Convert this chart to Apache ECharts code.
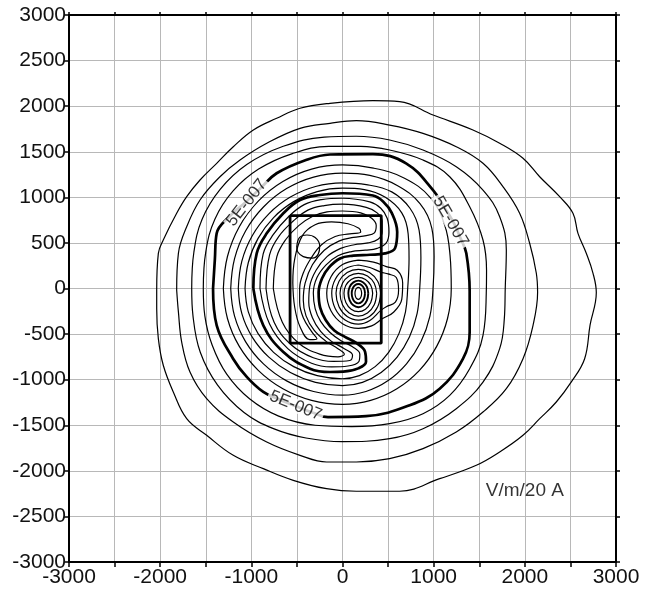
<!DOCTYPE html>
<html><head><meta charset="utf-8">
<script src="https://cdn.jsdelivr.net/npm/echarts@6/dist/echarts.min.js"></script>
<style>html,body{margin:0;padding:0;background:#fff}#c{width:653px;height:592px}</style>
</head><body><div id="c"></div>
<script>
// axis setup
const axisMin = -3000, axisMax = 3000, gridStep = 500, xLabelStep = 1000;

// contour lines, outer to inner (x, y in metres)
const contour1 = [[-2038,-16],[-2020,386],[-1966,532],[-1819,825],[-1709,1007],[-1563,1190],[-1380,1373],[-1198,1555],[-978,1739],[-722,1867],[-466,1977],[-137,2031],[334,2060],[627,2049],[993,1903],[1431,1739],[1724,1593],[1980,1428],[2163,1226],[2382,1007],[2528,825],[2583,605],[2674,386],[2748,167],[2784,-45],[2715,-404],[2656,-770],[2510,-1025],[2345,-1245],[2163,-1428],[1980,-1610],[1724,-1793],[1468,-1939],[1066,-2086],[627,-2224],[152,-2224],[-175,-2196],[-540,-2104],[-869,-1976],[-1198,-1830],[-1490,-1610],[-1709,-1428],[-1856,-1135],[-1966,-842],[-2020,-550],[-2038,-221],[-2038,-16]];
const contour2 = [[-1819,-16],[-1800,386],[-1709,678],[-1563,971],[-1344,1226],[-1124,1409],[-831,1593],[-466,1757],[-137,1812],[152,1841],[517,1793],[883,1702],[1248,1555],[1541,1373],[1760,1117],[1943,825],[2053,496],[2126,167],[2140,-45],[2090,-404],[1980,-770],[1797,-1099],[1541,-1355],[1248,-1574],[883,-1757],[517,-1867],[152,-1903],[-175,-1903],[-466,-1830],[-831,-1684],[-1198,-1464],[-1490,-1208],[-1673,-916],[-1764,-587],[-1800,-257],[-1819,-16]];
const contour3 = [[-1654,0],[-1630,400],[-1540,760],[-1340,1090],[-1050,1360],[-650,1560],[-200,1660],[150,1670],[517,1629],[883,1519],[1248,1336],[1541,1080],[1724,788],[1797,422],[1785,0],[1775,-330],[1724,-660],[1541,-1026],[1248,-1318],[883,-1538],[517,-1647],[0,-1680],[-400,-1640],[-750,-1540],[-1080,-1360],[-1370,-1060],[-1560,-700],[-1640,-300],[-1654,0]];
const contour4 = [[-1527,0],[-1500,400],[-1400,760],[-1200,1070],[-920,1310],[-550,1480],[-150,1560],[200,1560],[517,1519],[883,1409],[1176,1226],[1395,897],[1541,532],[1580,200],[1577,-49],[1541,-513],[1395,-880],[1176,-1172],[883,-1373],[517,-1483],[100,-1515],[-300,-1500],[-700,-1400],[-1020,-1210],[-1270,-940],[-1430,-620],[-1510,-300],[-1527,0]];
const contour5 = [[-1420,0],[-1400,320],[-1380,605],[-1240,790],[-1060,950],[-900,1100],[-722,1264],[-400,1410],[-137,1470],[334,1475],[697,1373],[993,1080],[1110,900],[1215,730],[1300,540],[1358,386],[1395,-30],[1395,-477],[1322,-770],[1066,-1099],[737,-1281],[258,-1400],[-159,-1410],[-330,-1360],[-514,-1290],[-700,-1215],[-869,-1135],[-1050,-970],[-1200,-770],[-1380,-404],[-1420,0]];
const contour6 = [[-1307,0],[-1262,351],[-1132,678],[-924,958],[-654,1173],[-339,1309],[0,1355],[340,1320],[680,1210],[960,1000],[1120,700],[1180,360],[1193,0],[1152,-329],[1033,-635],[844,-898],[597,-1100],[309,-1227],[0,-1270],[-339,-1227],[-654,-1100],[-924,-898],[-1132,-635],[-1262,-329],[-1307,0]];
const contour7 = [[-1226,0],[-1184,327],[-1062,633],[-867,894],[-613,1096],[-317,1222],[0,1265],[300,1240],[600,1130],[850,930],[980,660],[1005,350],[993,0],[959,-303],[860,-585],[702,-827],[497,-1013],[257,-1130],[0,-1170],[-317,-1130],[-613,-1013],[-867,-827],[-1062,-585],[-1184,-303],[-1226,0]];
const contour8 = [[-1143,0],[-1104,300],[-990,579],[-808,819],[-572,1003],[-296,1119],[0,1158],[260,1140],[540,1060],[740,880],[840,640],[860,340],[847,0],[818,-276],[734,-533],[599,-753],[424,-922],[219,-1029],[0,-1065],[-296,-1029],[-572,-922],[-808,-753],[-990,-533],[-1104,-276],[-1143,0]];
const contour9 = [[-1069,0],[-1033,285],[-926,550],[-756,778],[-535,953],[-277,1063],[0,1100],[240,1085],[470,1000],[650,830],[720,600],[730,330],[715,0],[691,-256],[619,-495],[506,-700],[358,-857],[185,-956],[0,-990],[-277,-956],[-535,-857],[-756,-700],[-926,-495],[-1033,-256],[-1069,0]];
const contour10 = [[-978,0],[-941,386],[-831,605],[-649,825],[-466,971],[-247,1026],[0,1045],[334,1020],[450,950],[540,830],[600,620],[576,441],[466,385],[302,370],[119,360],[-27,330],[-150,230],[-225,110],[-262,-40],[-245,-210],[-185,-345],[-90,-460],[27,-530],[155,-600],[247,-693],[258,-803],[173,-876],[9,-912],[-137,-916],[-356,-880],[-649,-697],[-869,-404],[-978,0]];
const contour11 = [[-905,0],[-870,380],[-760,590],[-590,790],[-420,920],[-230,975],[0,990],[300,950],[420,880],[490,770],[510,620],[480,500],[380,440],[250,420],[100,405],[-50,360],[-180,260],[-280,120],[-320,-50],[-300,-220],[-240,-360],[-140,-480],[-20,-570],[110,-640],[190,-720],[180,-800],[60,-850],[-120,-860],[-340,-820],[-600,-660],[-800,-390],[-905,0]];
const contour12 = [[-839,0],[-800,370],[-700,570],[-540,740],[-380,860],[-200,910],[0,925],[260,890],[380,830],[435,740],[435,620],[390,540],[280,500],[130,480],[-20,440],[-170,350],[-290,200],[-360,20],[-370,-150],[-330,-320],[-240,-470],[-120,-580],[20,-660],[110,-730],[80,-790],[-100,-800],[-320,-760],[-560,-620],[-750,-370],[-839,0]];
const contour13 = [[-759,0],[-720,350],[-620,540],[-480,690],[-330,790],[-170,840],[0,850],[200,830],[320,770],[370,690],[350,610],[260,580],[120,560],[-40,520],[-200,420],[-330,260],[-410,60],[-430,-130],[-400,-300],[-310,-460],[-180,-580],[-50,-660],[20,-720],[-50,-750],[-250,-720],[-480,-600],[-660,-370],[-759,0]];
const contour14 = [[-545,60],[-525,320],[-440,580],[-300,700],[-120,730],[60,710],[180,660],[200,620],[80,600],[-80,570],[-230,480],[-340,340],[-430,170],[-470,0],[-470,-150],[-430,-320],[-340,-470],[-280,-550],[-360,-560],[-466,-420],[-525,-200],[-545,60]];
const smallLoop = [[-502,460],[-470,560],[-390,587],[-300,560],[-250,470],[-265,380],[-330,334],[-430,350],[-490,400],[-502,460]];

// rings around the central peak
const ring1 = [[210,-53],[205,-20],[192,4],[174,13],[155,4],[142,-20],[137,-53],[142,-86],[155,-110],[174,-119],[192,-110],[205,-86],[210,-53]];
const ring2 = [[247,-53],[237,-2],[210,35],[174,49],[137,35],[111,-2],[101,-53],[111,-108],[137,-148],[174,-163],[210,-148],[237,-108],[247,-53]];
const ring3 = [[283,-53],[268,17],[228,67],[174,86],[119,67],[79,17],[64,-53],[79,-130],[119,-185],[174,-206],[228,-185],[268,-130],[283,-53]];
const ring4 = [[331,-53],[310,35],[252,99],[174,123],[95,99],[37,35],[16,-53],[37,-154],[95,-227],[174,-254],[252,-227],[310,-154],[331,-53]];
const ring5 = [[375,-53],[348,57],[274,137],[174,166],[73,137],[0,57],[-27,-53],[0,-178],[73,-269],[174,-302],[274,-269],[348,-178],[375,-53]];
const ring6 = [[419,-53],[386,79],[296,175],[174,210],[51,175],[-38,79],[-71,-53],[-38,-200],[51,-307],[174,-346],[296,-307],[386,-200],[419,-53]];
const ring7 = [[174,258],[300,230],[420,180],[500,160],[590,120],[615,-20],[580,-150],[480,-200],[420,-240],[300,-350],[174,-390],[28,-345],[-79,-221],[-118,-53],[-79,102],[28,216],[174,258]];
const ring8 = [[174,312],[340,290],[480,240],[600,200],[660,60],[650,-120],[560,-260],[440,-330],[320,-410],[174,-437],[0,-386],[-127,-245],[-173,-53],[-126,129],[0,263],[174,312]];

const boldLines = [contour5, contour10];
const thinLines = [contour1, contour2, contour3, contour4, contour6, contour7, contour8, contour9, contour11, contour12, contour13, contour14, smallLoop, ring1, ring4, ring5, ring6, ring7, ring8];
const mediumLines = [ring2, ring3];

// survey rectangle
const rectangle = [[-575,800],[425,800],[425,-600],[-575,-600],[-575,800]];

// contour labels: x, y, rotation
const labelText = '5E-007';
const labelPoints = [[-1050,940,52],[1185,735,-60],[-514,-1285,-22]];
const unitText = 'V/m/20 A';
const unitPoint = [2000,-2220];

const FONT = 'Liberation Sans, Arial, sans-serif';
const chart = echarts.init(document.getElementById('c'), null, {renderer:'canvas'});

function lineSeries(data, width, z) {
  return {type:'line', data:data, smooth:0.4, symbol:'none', silent:true, z:z,
    lineStyle:{color:'#000', width:width}, animation:false};
}
const series = [];
thinLines.forEach(d => series.push(lineSeries(d, 1.2, 3)));
mediumLines.forEach(d => series.push(lineSeries(d, 1.9, 3)));
boldLines.forEach(d => series.push(lineSeries(d, 2.7, 4)));
series.push({type:'line', data:rectangle, smooth:false, symbol:'none', silent:true, z:5,
  lineStyle:{color:'#000', width:2.8}, animation:false});
series.push({type:'scatter', z:8, silent:true, symbolSize:1, itemStyle:{color:'rgba(0,0,0,0)'},
  data: labelPoints.map(p => ({value:[p[0],p[1]], label:{rotate:p[2]}})),
  label:{show:true, position:'inside', formatter:labelText, fontSize:17, color:'#000', fontFamily:FONT,
    backgroundColor:'#fff', padding:[0,2], lineHeight:14}, animation:false});
series.push({type:'scatter', z:8, silent:true, symbolSize:1, itemStyle:{color:'rgba(0,0,0,0)'},
  data:[{value:unitPoint}],
  label:{show:true, position:'inside', formatter:unitText, fontSize:19, color:'#000', fontFamily:FONT}, animation:false});

const axisLineStyle = {color:'#000', width:2};
chart.setOption({
  animation:false,
  backgroundColor:'#fff',
  grid:{left:69, right:37, top:15, bottom:30},
  xAxis:[
    {type:'value', min:axisMin, max:axisMax, interval:gridStep, position:'bottom',
     axisLine:{show:true, onZero:false, lineStyle:axisLineStyle},
     axisTick:{show:true, length:5, lineStyle:{color:'#000', width:1.5}},
     axisLabel:{formatter:v => (v % xLabelStep === 0 ? String(v) : ''), fontSize:21, color:'#111', margin:5, fontFamily:FONT},
     splitLine:{show:true, lineStyle:{color:'#b8b8b8', width:1}}},
    {type:'value', min:axisMin, max:axisMax, interval:gridStep, position:'top',
     axisLine:{show:true, onZero:false, lineStyle:axisLineStyle},
     axisTick:{show:true, length:3, lineStyle:{color:'#000', width:1.5}},
     axisLabel:{show:false}, splitLine:{show:false}}
  ],
  yAxis:[
    {type:'value', min:axisMin, max:axisMax, interval:gridStep, position:'left',
     axisLine:{show:true, onZero:false, lineStyle:axisLineStyle},
     axisTick:{show:true, length:5, lineStyle:{color:'#000', width:1.5}},
     axisLabel:{formatter:v => String(v), fontSize:21, color:'#111', margin:3, fontFamily:FONT},
     splitLine:{show:true, lineStyle:{color:'#b8b8b8', width:1}}},
    {type:'value', min:axisMin, max:axisMax, interval:gridStep, position:'right',
     axisLine:{show:true, onZero:false, lineStyle:axisLineStyle},
     axisTick:{show:true, length:4, lineStyle:{color:'#000', width:1.5}},
     axisLabel:{show:false}, splitLine:{show:false}}
  ],
  series:series
});
</script></body></html>
